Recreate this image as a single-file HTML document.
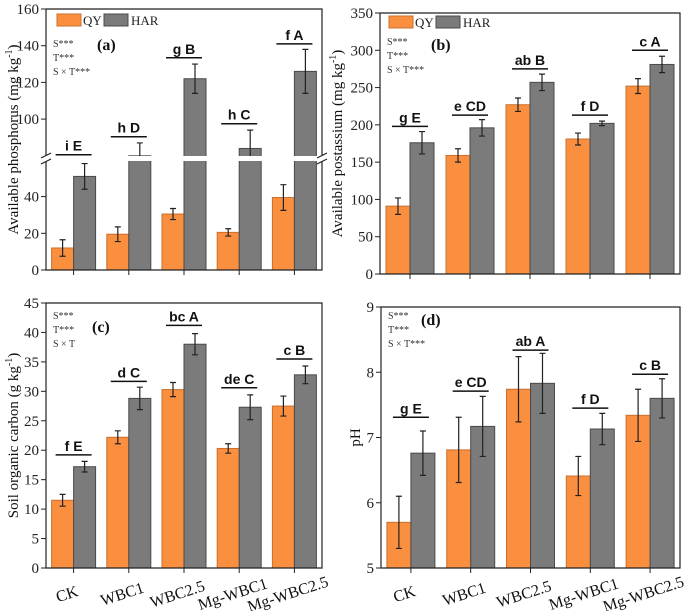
<!DOCTYPE html>
<html><head><meta charset="utf-8">
<style>
html,body{margin:0;padding:0;background:#fff;}
svg{display:block;font-family:"Liberation Serif",serif;}
</style></head>
<body>
<svg id="fig" width="685" height="611" viewBox="0 0 685 611" xmlns="http://www.w3.org/2000/svg"></svg>
<script>
const categories = ["CK","WBC1","WBC2.5","Mg-WBC1","Mg-WBC2.5"];
// (a) available phosphorus
const aQY = [12,19.5,30.5,20.5,39.5];
const aQYerr = [4.5,4,3,2,7];
const aHAR = [51,80,122,84,126];
const aHARerr = [7,7,8,10,12];
const aLetters = ["i E","h D","g B","h C","f A"];
const aLetterVals = [80.6,90.4,133.4,97.5,141];
const aTicks = [0,20,40,100,120,140,160];
// (b) available potassium
const bQY = [91,159,227,181,252];
const bQYerr = [11,9,9,8,10];
const bHAR = [176,196,257,202,281];
const bHARerr = [15,11,11,3,11];
const bLetters = ["g E","e CD","ab B","f D","c A"];
const bLetterVals = [198,213,275,213,300];
const bTicks = [0,50,100,150,200,250,300,350];
// (c) soil organic carbon
const cQY = [11.5,22.2,30.3,20.3,27.5];
const cQYerr = [1,1.1,1.2,0.8,1.7];
const cHAR = [17.2,28.8,38,27.3,32.8];
const cHARerr = [0.9,1.9,1.8,2.1,1.5];
const cLetters = ["f E","d C","bc A","de C","c B"];
const cLetterVals = [19.2,31.7,41.2,30.6,35.5];
const cTicks = [0,5,10,15,20,25,30,35,40,45];
// (d) pH
const dQY = [5.7,6.81,7.74,6.41,7.34];
const dQYerr = [0.4,0.5,0.5,0.3,0.4];
const dHAR = [6.76,7.17,7.83,7.13,7.6];
const dHARerr = [0.34,0.46,0.46,0.24,0.3];
const dLetters = ["g E","e CD","ab A","f D","c B"];
const dLetterVals = [7.31,7.71,8.34,7.45,7.97];
const dTicks = [5,6,7,8,9];

const NS="http://www.w3.org/2000/svg";
const svg=document.getElementById('fig');
function mk(tag,attrs,parent,text){const e=document.createElementNS(NS,tag);for(const k in attrs)e.setAttribute(k,attrs[k]);if(text!==undefined)e.textContent=text;(parent||svg).appendChild(e);return e;}
const ORANGE="#f98f3f", ORANGE_S="#c9702f", GRAY="#7b7b7b", GRAY_S="#4a4a4a";

function panel(o){
  const g=mk('g',{});
  
  
  const {x0,x1,y0,y1}=o;
  const n=categories.length, gw=(x1-x0)/n;
  const cx=i=>x0+gw*(i+0.5);
  const Y=o.y;
  for(let i=0;i<n;i++){
    const series=[[o.qy,o.qyErr,ORANGE,ORANGE_S,-1,'qy'],[o.har,o.harErr,GRAY,GRAY_S,0,'har']];
    for(const [vals,errs,fill,stroke,off,nm] of series){
      const bx=cx(i)+off*o.bw, top=Y(vals[i]);
      const r=mk('rect',{x:bx,y:top,width:o.bw,height:y1-top,fill:fill,stroke:stroke,'stroke-width':1},g);
      
      
      const ex=bx+o.bw/2, eh=Y(vals[i]+errs[i]), el=Y(vals[i]-errs[i]);
      const eb=mk('path',{d:`M${ex},${eh}V${el}M${ex-3},${eh}H${ex+3}M${ex-3},${el}H${ex+3}`,stroke:'#222','stroke-width':1.2,fill:'none'},g);
      
      
    }
    const ly=Y(o.letterVals[i]);
    const ln=mk('line',{x1:cx(i)-18,x2:cx(i)+18,y1:ly,y2:ly,stroke:'#111','stroke-width':1.5},g);
    
    
    const lt=mk('text',{x:cx(i),y:ly-4,'text-anchor':'middle','font-family':'Liberation Sans, sans-serif','font-weight':'bold','font-size':14,fill:'#111'},g,o.letters[i]);
    
    
    const tk=mk('line',{x1:cx(i),x2:cx(i),y1:y1,y2:y1+5,stroke:'#222','stroke-width':1},g);
    
    
    if(o.xlabels){
      const t=mk('text',{x:0,y:0,'text-anchor':'middle','font-size':16,fill:'#111',transform:`translate(${cx(i)-5},${y1+31}) rotate(-18)`},g,categories[i]);
      
      
    }
  }
  if(o.breakY){
    const gap=mk('rect',{x:x0-1,y:o.breakY[0],width:x1-x0+2,height:o.breakY[1]-o.breakY[0],fill:'#fff'},g);
    
    
  }
  const fr=mk('path',o.breakY?{d:`M${x0},${y0}V${o.breakY[0]}M${x0},${o.breakY[1]}V${y1}H${x1}V${o.breakY[1]}M${x1},${o.breakY[0]}V${y0}H${x0}`,stroke:'#222','stroke-width':1.2,fill:'none'}:{d:`M${x0},${y0}V${y1}H${x1}V${y0}Z`,stroke:'#222','stroke-width':1.2,fill:'none'},g);
  
  
  if(o.breakY){
    for(const xx of [x0,x1]){
      const bm=mk('path',{d:`M${xx-5},${o.breakY[0]+2}L${xx+5},${o.breakY[0]-3}M${xx-5},${o.breakY[1]+3}L${xx+5},${o.breakY[1]-2}`,stroke:'#222','stroke-width':1.2},g);
      
      
    }
  }
  for(const t of o.ticks){
    const yy=Y(t);
    const tl=mk('line',{x1:x0-5,x2:x0,y1:yy,y2:yy,stroke:'#222','stroke-width':1},g);
    
    
    const tt=mk('text',{x:x0-7,y:yy+5,'text-anchor':'end','font-size':15,fill:'#222'},g,String(t));
    
    
  }
  const yt=mk('text',{x:0,y:0,'text-anchor':'middle','font-size':15,fill:'#111',transform:`translate(${o.titleX},${(y0+y1)/2}) rotate(-90)`},g);
  
  
  mk('tspan',{},yt,o.title[0]);
  if(o.title[1]){mk('tspan',{'font-size':10,dy:-6},yt,o.title[1]);mk('tspan',{dy:6},yt,')');}
  o.stats.forEach((s,k)=>{
    const st=mk('text',{x:x0+7,y:y0+(o.statsY)+k*14,'font-size':10,fill:'#333'},g,s);
    
    
  });
  const pl=mk('text',{x:o.lab[0],y:o.lab[1],'font-size':16,'font-weight':'bold',fill:'#111'},g,o.label);
  
  
  if(o.legend){
    const [lx,ly]=o.legend;
    const lg=mk('g',{},g);
    
    
    mk('rect',{x:lx,y:ly,width:24,height:12,fill:ORANGE,stroke:ORANGE_S},lg);
    mk('text',{x:lx+26,y:ly+11,'font-size':13,fill:'#222'},lg,'QY');
    mk('rect',{x:lx+47,y:ly,width:24,height:12,fill:GRAY,stroke:GRAY_S},lg);
    mk('text',{x:lx+74,y:ly+11,'font-size':13,fill:'#222'},lg,'HAR');
  }
}

const aK=1.835;
function yA(v){ if(v<=60) return 270-v*aK; if(v>=80) return 9+(160-v)*aK; return 158.5; }
panel({name:'panel-a-phosphorus',x0:46,x1:322,y0:9,y1:270,y:yA,bw:22,qy:aQY,qyErr:aQYerr,har:aHAR,harErr:aHARerr,letters:aLetters,letterVals:aLetterVals,ticks:aTicks,breakY:[156,161],
  title:['Available phosphorus (mg kg','-1'],titleX:18,stats:['S***','T***','S × T***'],statsY:38,label:'(a)',lab:[97,50],legend:[57,14]});
panel({name:'panel-b-potassium',x0:380,x1:680,y0:13,y1:274,y:v=>274-v*(261/350),bw:24,qy:bQY,qyErr:bQYerr,har:bHAR,harErr:bHARerr,letters:bLetters,letterVals:bLetterVals,ticks:bTicks,
  title:['Available postassium (mg kg','-1'],titleX:342,stats:['S***','T***','S × T***'],statsY:32,label:'(b)',lab:[431,50],legend:[389,16]});
panel({name:'panel-c-carbon',x0:46,x1:322,y0:303,y1:568,y:v=>568-v*(265/45),bw:22,qy:cQY,qyErr:cQYerr,har:cHAR,harErr:cHARerr,letters:cLetters,letterVals:cLetterVals,ticks:cTicks,
  title:['Soil organic carbon (g kg','-1'],titleX:18,stats:['S***','T***','S × T'],statsY:16,label:'(c)',lab:[92,332],xlabels:true});
panel({name:'panel-d-ph',x0:381,x1:680,y0:307,y1:568,y:v=>568-(v-5)*(261/4),bw:24,qy:dQY,qyErr:dQYerr,har:dHAR,harErr:dHARerr,letters:dLetters,letterVals:dLetterVals,ticks:dTicks,
  title:['pH'],titleX:360,stats:['S***','T***','S × T***'],statsY:12,label:'(d)',lab:[421,325],xlabels:true});
</script>
</body></html>
